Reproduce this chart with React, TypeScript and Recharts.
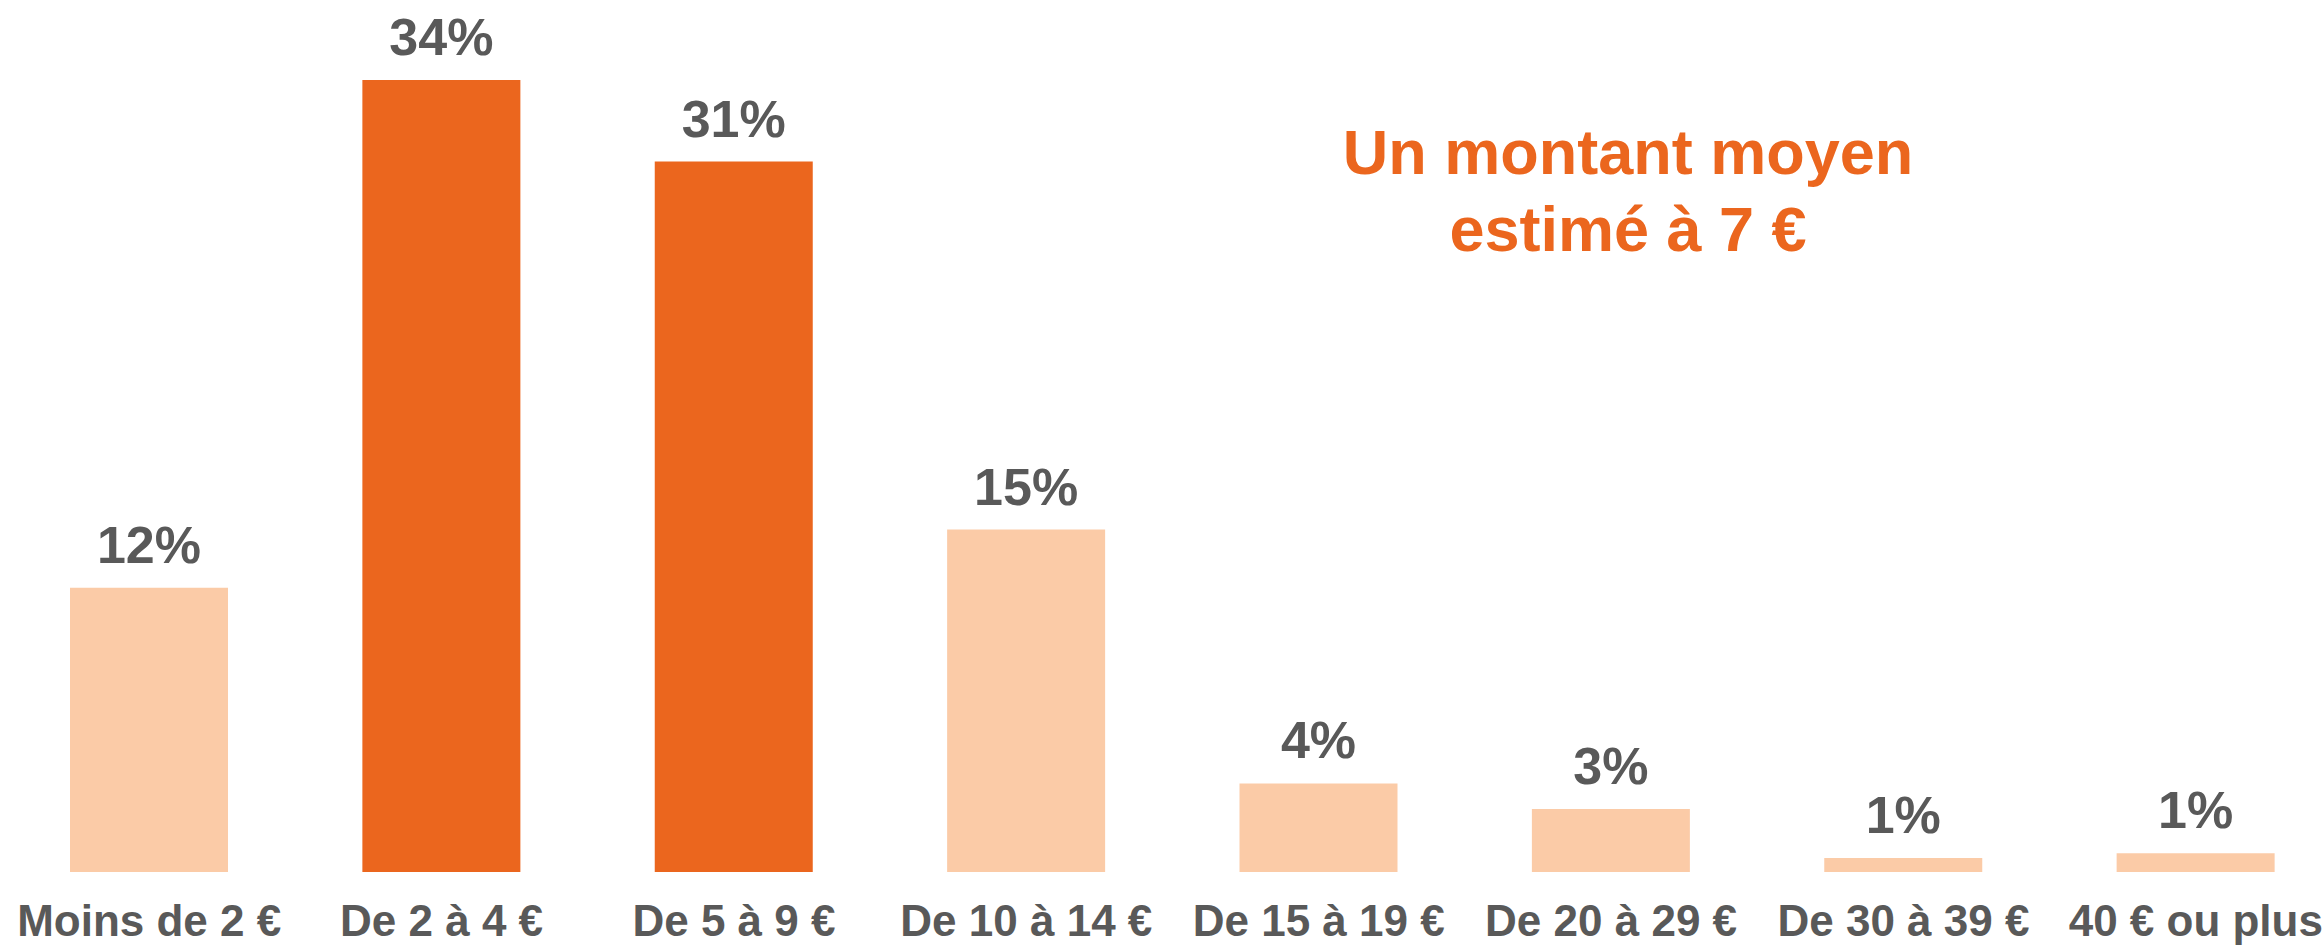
import React from 'react';
import { BarChart, Bar, XAxis, YAxis, Cell, LabelList } from 'recharts';

// montants dépensés (en % des répondants)
const categories = [
  'Moins de 2 €',
  'De 2 à 4 €',
  'De 5 à 9 €',
  'De 10 à 14 €',
  'De 15 à 19 €',
  'De 20 à 29 €',
  'De 30 à 39 €',
  '40 € ou plus',
];
const values = [12.2, 34, 30.5, 14.7, 3.8, 2.7, 0.6, 0.8];
const valueLabels = ['12%', '34%', '31%', '15%', '4%', '3%', '1%', '1%'];
const highlighted = [false, true, true, false, false, false, false, false];

const titleLines = ['Un montant moyen', 'estimé à 7 €'];

const DARK = '#EB661E';
const LIGHT = '#FBCBA7';
const GREY = '#595959';
const FONT = '"Liberation Sans", Arial, Helvetica, sans-serif';

const data = categories.map((name, i) => ({
  name,
  value: values[i],
  label: valueLabels[i],
}));

const CategoryTick = (props: any) => {
  const { x, y, payload } = props;
  return (
    <text
      x={x}
      y={y}
      dy={64}
      textAnchor="middle"
      fill={GREY}
      fontSize={44}
      fontWeight="bold"
      fontFamily={FONT}
    >
      {payload.value}
    </text>
  );
};

const ValueLabel = (props: any) => {
  const { x, y, width, index } = props;
  return (
    <text
      x={x + width / 2}
      y={y - 25}
      textAnchor="middle"
      fill={GREY}
      fontSize={52}
      fontWeight="bold"
      fontFamily={FONT}
    >
      {valueLabels[index]}
    </text>
  );
};

export default function App() {
  return (
    <div style={{ position: 'fixed', left: 0, top: 0, width: 2324, height: 946, background: '#fff' }}>
      <BarChart
        width={2324}
        height={946}
        data={data}
        margin={{ top: 80, right: -18, bottom: 0, left: 3 }}
        barSize={158}
      >
        <XAxis
          dataKey="name"
          axisLine={false}
          tickLine={false}
          tickSize={0}
          tickMargin={0}
          height={74}
          interval={0}
          tick={<CategoryTick />}
        />
        <YAxis hide domain={[0, 34]} />
        <Bar dataKey="value" isAnimationActive={false}>
          {data.map((d, i) => (
            <Cell key={d.name} fill={highlighted[i] ? DARK : LIGHT} />
          ))}
          <LabelList dataKey="label" content={<ValueLabel />} />
        </Bar>
      </BarChart>
      <div
        style={{
          position: 'absolute',
          left: 1328,
          top: 114,
          width: 600,
          textAlign: 'center',
          color: DARK,
          fontFamily: FONT,
          fontWeight: 'bold',
          fontSize: 63,
          lineHeight: '77px',
        }}
      >
        {titleLines.map((l) => (
          <div key={l}>{l}</div>
        ))}
      </div>
    </div>
  );
}
